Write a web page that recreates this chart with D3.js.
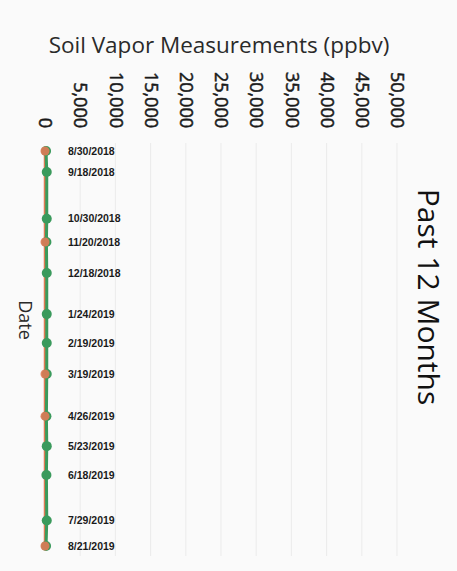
<!DOCTYPE html>
<html>
<head>
<meta charset="utf-8">
<script src="https://cdnjs.cloudflare.com/ajax/libs/d3/7.8.5/d3.min.js"></script>
<style>
body { margin: 0; background: #fafafa; }
svg { display: block; }
</style>
</head>
<body>
<svg width="457" height="571"></svg>
<script>
var svg = d3.select('svg');

var dates = ["8/30/2018", "9/18/2018", "10/30/2018", "11/20/2018", "12/18/2018", "1/24/2019",
    "2/19/2019", "3/19/2019", "4/26/2019", "5/23/2019", "6/18/2019", "7/29/2019", "8/21/2019"];
var greenValues = [150, 250, 250, 200, 250, 250, 250, 250, 200, 250, 200, 250, 150];
var orangeDates = ["8/30/2018", "11/20/2018", "3/19/2019", "4/26/2019", "8/21/2019"];
var orangeValues = [0, 0, 0, 0, 0];
var valueTicks = [0, 5000, 10000, 15000, 20000, 25000, 30000, 35000, 40000, 45000, 50000];

var parse = d3.timeParse("%m/%d/%Y");

var x = d3.scaleLinear().domain([0, 50000]).range([45, 397]);
var y = d3.scaleTime()
    .domain([parse(dates[0]), parse(dates[dates.length - 1])])
    .range([151, 546]);

svg.append("rect").attr("x", 0).attr("y", 0).attr("width", 457).attr("height", 571).attr("fill", "#fafafa");

// grid
svg.append("g").selectAll("line").data(valueTicks.slice(1)).enter().append("line")
    .attr("x1", function(d) { return x(d); })
    .attr("x2", function(d) { return x(d); })
    .attr("y1", 143)
    .attr("y2", 556)
    .attr("stroke", "#ebebeb")
    .attr("stroke-width", 1);

// value axis (top)
var xAxis = d3.axisTop(x).tickValues(valueTicks).tickFormat(d3.format(",")).tickSize(0);
var gx = svg.append("g").attr("transform", "translate(0,128)").call(xAxis);
gx.select(".domain").remove();
gx.selectAll("text")
    .attr("transform", "rotate(90)")
    .attr("x", 0)
    .attr("y", 0)
    .attr("dy", "0.35em")
    .attr("dx", 0)
    .style("text-anchor", "end")
    .style("font-family", "Open Sans, sans-serif")
    .style("font-size", "18px")
    .style("fill", "#1a1a1a")
    .style("stroke", "#1a1a1a")
    .style("stroke-width", "0.5px");

// date labels
svg.append("g").selectAll("text").data(dates).enter().append("text")
    .attr("x", 68)
    .attr("y", function(d) { return y(parse(d)); })
    .attr("dy", "0.35em")
    .text(function(d) { return d; })
    .style("font-family", "Liberation Sans, Arial, sans-serif")
    .style("font-weight", "bold")
    .style("font-size", "10.5px")
    .style("fill", "#1a1a1a");

// orange series
var orangeLine = d3.line()
    .x(function(d, i) { return x(orangeValues[i]); })
    .y(function(d) { return y(parse(d)); });
svg.append("path").attr("d", orangeLine(orangeDates))
    .attr("fill", "none").attr("stroke", "#e07a55").attr("stroke-width", 2.5);

// green series
var greenLine = d3.line()
    .x(function(d, i) { return x(greenValues[i]); })
    .y(function(d) { return y(parse(d)); });
svg.append("path").attr("d", greenLine(dates))
    .attr("fill", "none").attr("stroke", "#3a9a5c").attr("stroke-width", 3);

svg.append("g").selectAll("circle").data(dates).enter().append("circle")
    .attr("cx", function(d, i) { return x(greenValues[i]); })
    .attr("cy", function(d) { return y(parse(d)); })
    .attr("r", 5)
    .attr("fill", "#3a9a5c");

svg.append("g").selectAll("circle").data(orangeDates).enter().append("circle")
    .attr("cx", function(d, i) { return x(orangeValues[i]); })
    .attr("cy", function(d) { return y(parse(d)); })
    .attr("r", 4.5)
    .attr("fill", "#e07a55")
    .attr("opacity", 0.9);

// titles
svg.append("text")
    .attr("x", 219).attr("y", 53)
    .attr("text-anchor", "middle")
    .text("Soil Vapor Measurements (ppbv)")
    .style("font-family", "Open Sans, sans-serif")
    .style("font-size", "22.5px")
    .style("fill", "#2a2a2a");

svg.append("text")
    .attr("transform", "translate(19,320) rotate(90)")
    .attr("text-anchor", "middle")
    .text("Date")
    .style("font-family", "Open Sans, sans-serif")
    .style("font-size", "18px")
    .style("fill", "#2a2a2a");

svg.append("text")
    .attr("transform", "translate(418,297) rotate(90)")
    .attr("text-anchor", "middle")
    .text("Past 12 Months")
    .style("font-family", "Open Sans, sans-serif")
    .style("font-size", "30px")
    .style("fill", "#111");
</script>
</body>
</html>
